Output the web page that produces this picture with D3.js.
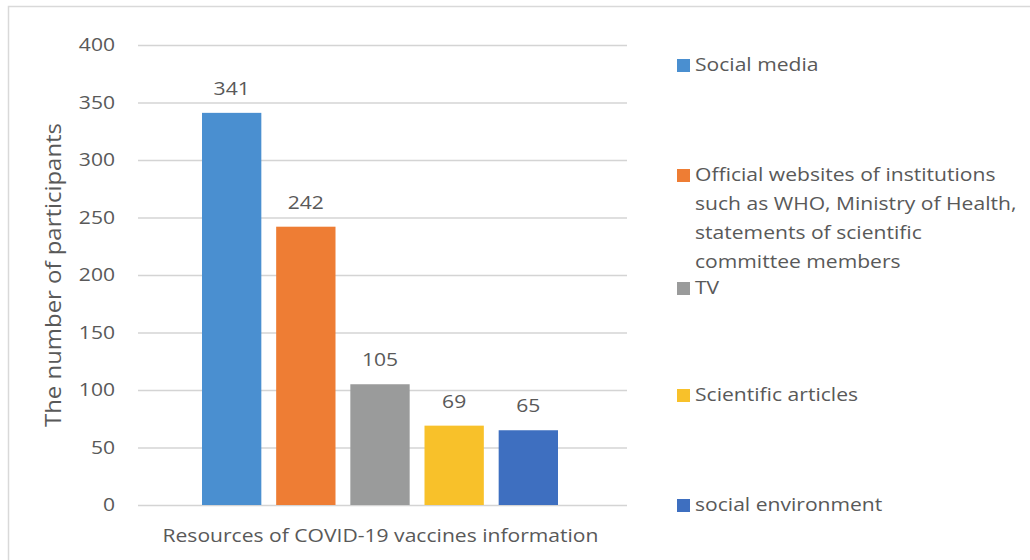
<!DOCTYPE html>
<html>
<head>
<meta charset="utf-8">
<script src="https://cdn.jsdelivr.net/npm/d3@7"></script>
<style>
  html, body { margin: 0; padding: 0; background: #fff; }
  svg { display: block; }
  text { font-family: "Open Sans", Lato, sans-serif; fill: #595959; }
</style>
</head>
<body>
<svg id="chart" width="1030" height="560"></svg>
<script>
// Sources of COVID-19 vaccine information, number of participants
const categories = [
  "Social media",
  "Official websites of institutions such as WHO, Ministry of Health, statements of scientific committee members",
  "TV",
  "Scientific articles",
  "social environment"
];
const values = [341, 242, 105, 69, 65];
const colors = ["#4a8fd0", "#ee7d34", "#9a9b9b", "#f8c12a", "#3e6fc0"];
const legendLines = [
  ["Social media"],
  ["Official websites of institutions", "such as WHO, Ministry of Health,", "statements of scientific", "committee members"],
  ["TV"],
  ["Scientific articles"],
  ["social environment"]
];
const yTicks = [0, 50, 100, 150, 200, 250, 300, 350, 400];
const xTitle = "Resources of COVID-19 vaccines information";
const yTitle = "The number of participants";

// text is drawn slightly widened along its baseline
const SX = 1.14;

const svg = d3.select("#chart");

// outer frame (top and left edges)
svg.append("path")
  .attr("d", "M8.5,560 V6.5 H1030")
  .attr("fill", "none")
  .attr("stroke", "#d9d9d9")
  .attr("stroke-width", 1.5);

const plot = { left: 138, right: 627, top: 45, bottom: 505 };

const y = d3.scaleLinear().domain([0, 400]).range([plot.bottom, plot.top]);
const x = d3.scaleBand()
  .domain(categories)
  .range([202, 558])
  .paddingInner(0.2)
  .paddingOuter(0);

// gridlines + y labels via axis
const yAxis = d3.axisLeft(y)
  .tickValues(yTicks)
  .tickSize(-(plot.right - plot.left))
  .tickPadding(22);

const gy = svg.append("g")
  .attr("transform", `translate(${plot.left},0)`)
  .call(yAxis);
gy.select(".domain").remove();
gy.selectAll(".tick line").attr("stroke", "#d4d4d4").attr("stroke-width", 1.3);
gy.selectAll(".tick text")
  .attr("x", 0)
  .attr("transform", `translate(-23,0) scale(${SX},1)`)
  .attr("font-size", 18.5)
  .attr("font-family", "'Open Sans', Lato, sans-serif")
  .attr("fill", "#595959");

// bars
svg.append("g").selectAll("rect")
  .data(values)
  .join("rect")
  .attr("x", (d, i) => x(categories[i]))
  .attr("width", x.bandwidth())
  .attr("y", d => y(d))
  .attr("height", d => y(0) - y(d))
  .attr("fill", (d, i) => colors[i]);

// value labels
svg.append("g").selectAll("text")
  .data(values)
  .join("text")
  .attr("transform", (d, i) =>
    `translate(${x(categories[i]) + x.bandwidth() / 2},${y(d) - 18}) scale(${SX},1)`)
  .attr("text-anchor", "middle")
  .attr("font-size", 18.5)
  .attr("fill", "#404040")
  .text(d => d);

// axis titles
svg.append("text")
  .attr("transform", `translate(${(plot.left + plot.right) / 2 - 2},542) scale(${SX},1)`)
  .attr("text-anchor", "middle")
  .attr("font-size", 18.5)
  .text(xTitle);

svg.append("text")
  .attr("transform", `translate(61,${(plot.top + plot.bottom) / 2}) rotate(-90) scale(${SX},1)`)
  .attr("text-anchor", "middle")
  .attr("font-size", 21)
  .text(yTitle);

// legend
const legendY = [65, 175, 288, 395, 505];
const lg = svg.append("g");
legendLines.forEach((lines, i) => {
  const g = lg.append("g").attr("transform", `translate(677,${legendY[i]})`);
  g.append("rect")
    .attr("x", 0).attr("y", -6)
    .attr("width", 13).attr("height", 13)
    .attr("fill", colors[i]);
  lines.forEach((t, j) => {
    g.append("text")
      .attr("transform", `translate(18,${j * 29}) scale(${SX},1)`)
      .attr("dy", "0.35em")
      .attr("font-size", 18.5)
      .text(t);
  });
});
</script>
</body>
</html>
